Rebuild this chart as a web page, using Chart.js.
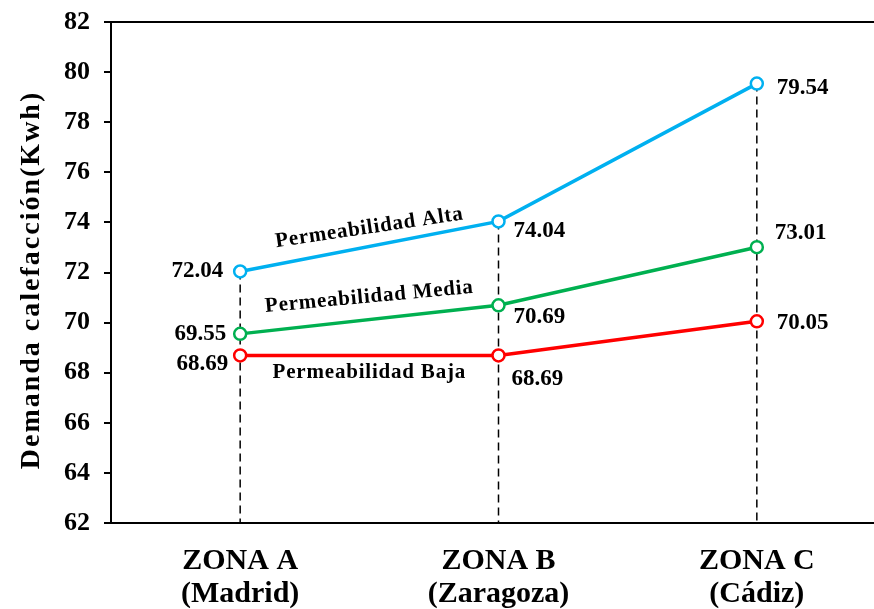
<!DOCTYPE html>
<html>
<head>
<meta charset="utf-8">
<script src="https://cdn.jsdelivr.net/npm/chart.js@4.4.0/dist/chart.umd.min.js"></script>
<style>
  html, body { margin: 0; padding: 0; overflow: hidden; background: #fff; }
  canvas { display: block; }
</style>
</head>
<body>
<canvas id="chart" width="900" height="609"></canvas>
<script>
// datos
var zonas = [["ZONA A", "(Madrid)"], ["ZONA B", "(Zaragoza)"], ["ZONA C", "(Cádiz)"]];
var permAlta = [72.04, 74.04, 79.54];
var permMedia = [69.55, 70.69, 73.01];
var permBaja = [68.69, 68.69, 70.05];
var yTitulo = "Demanda calefacción(Kwh)";
var yMin = 62, yMax = 82, yPaso = 2;

const FONT = "'Liberation Serif', 'Times New Roman', Times, serif";

// donde va cada etiqueta de valor: [dx, dy, align]
var offsets = [
  [[-17, 0, "right"], [15, 10, "left"], [20, 4, "left"]],
  [[-14, 0, "right"], [15, 12, "left"], [18, -14, "left"]],
  [[-12, 9, "right"], [13, 24, "left"], [20, 2, "left"]]
];
// nombres de serie sobre las lineas
var nombres = [
  { text: "Permeabilidad Alta", x: 0.5, y: 73.78, ang: -8.5 },
  { text: "Permeabilidad Media", x: 0.5, y: 71.02, ang: -5.3 },
  { text: "Permeabilidad Baja", x: 0.5, y: 67.99, ang: 0 }
];

const canvas = document.getElementById("chart");
const ctx = canvas.getContext("2d");

// lineas discontinuas verticales hasta el eje x
const dropLines = {
  id: "dropLines",
  beforeDatasetsDraw(chart) {
    const c = chart.ctx, xs = chart.scales.x, ys = chart.scales.y;
    c.save();
    c.strokeStyle = "#000";
    c.lineWidth = 1.5;
    c.setLineDash([8, 5]);
    for (let i = 0; i < zonas.length; i++) {
      let top = Math.max(permAlta[i], permMedia[i], permBaja[i]);
      let x = xs.getPixelForValue(i);
      c.beginPath();
      c.moveTo(x, ys.getPixelForValue(top));
      c.lineTo(x, chart.chartArea.bottom);
      c.stroke();
    }
    c.restore();
  }
};

const extras = {
  id: "extras",
  afterDraw(chart) {
    const c = chart.ctx, xs = chart.scales.x, ys = chart.scales.y, a = chart.chartArea;
    c.save();
    // linea superior
    c.strokeStyle = "#000";
    c.lineWidth = 2;
    c.beginPath();
    c.moveTo(a.left - 7, a.top);
    c.lineTo(a.right, a.top);
    c.stroke();

    // etiquetas de valores
    c.fillStyle = "#000";
    c.font = "bold 23px " + FONT;
    c.textBaseline = "middle";
    chart.data.datasets.forEach(function (ds, d) {
      ds.data.forEach(function (v, i) {
        let o = offsets[d][i];
        c.textAlign = o[2];
        c.fillText(v.toFixed(2), xs.getPixelForValue(i) + o[0], ys.getPixelForValue(v) + o[1]);
      });
    });

    // nombres de serie
    c.font = "bold 21px " + FONT;
    c.textAlign = "center";
    c.letterSpacing = "0.8px";
    nombres.forEach(function (n) {
      c.save();
      c.translate(xs.getPixelForValue(n.x), ys.getPixelForValue(n.y));
      c.rotate(n.ang * Math.PI / 180);
      c.fillText(n.text, 0, 0);
      c.restore();
    });

    // titulo eje y
    c.font = "bold 28px " + FONT;
    c.letterSpacing = "2px";
    c.translate(32, 280);
    c.rotate(-Math.PI / 2);
    c.fillText(yTitulo, 0, 0);
    c.restore();
  }
};

function drawChart() {
  new Chart(ctx, {
    type: "line",
    data: {
      labels: zonas,
      datasets: [
        { label: "Permeabilidad Alta", data: permAlta, borderColor: "#00B0F0" },
        { label: "Permeabilidad Media", data: permMedia, borderColor: "#00B050" },
        { label: "Permeabilidad Baja", data: permBaja, borderColor: "#FF0000" }
      ].map(function (ds) {
        ds.borderWidth = 3.5;
        ds.pointRadius = 6;
        ds.pointBorderWidth = 2.5;
        ds.pointBorderColor = ds.borderColor;
        ds.pointBackgroundColor = "#fff";
        ds.tension = 0;
        return ds;
      })
    },
    options: {
      responsive: false,
      animation: false,
      devicePixelRatio: 1,
      layout: { padding: { top: 22, right: 14, left: 0, bottom: 0 } },
      plugins: { legend: { display: false }, tooltip: { enabled: false } },
      scales: {
        x: {
          offset: true,
          afterFit: function (s) { s.height = 86; },
          grid: { display: true, drawOnChartArea: false, drawTicks: false },
          border: { display: true, color: "#000", width: 2 },
          ticks: {
            color: "#000",
            padding: 21,
            maxRotation: 0,
            autoSkip: false,
            font: { family: FONT, size: 30, weight: "bold", lineHeight: 1.12 }
          }
        },
        y: {
          min: yMin,
          max: yMax,
          afterFit: function (s) { s.width = 111; s.paddingTop = 0; s.paddingBottom = 0; },
          grid: { display: true, drawOnChartArea: false, drawTicks: true, tickLength: 7, color: "#000", lineWidth: 2 },
          border: { display: true, color: "#000", width: 2 },
          ticks: {
            stepSize: yPaso,
            color: "#000",
            padding: 14,
            font: { family: FONT, size: 26, weight: "bold" }
          }
        }
      }
    },
    plugins: [dropLines, extras]
  });
}

Promise.all([
  document.fonts.load("bold 22px 'Liberation Serif'"),
  document.fonts.load("bold 22px 'Times New Roman'")
]).then(drawChart, drawChart);
</script>
</body>
</html>
